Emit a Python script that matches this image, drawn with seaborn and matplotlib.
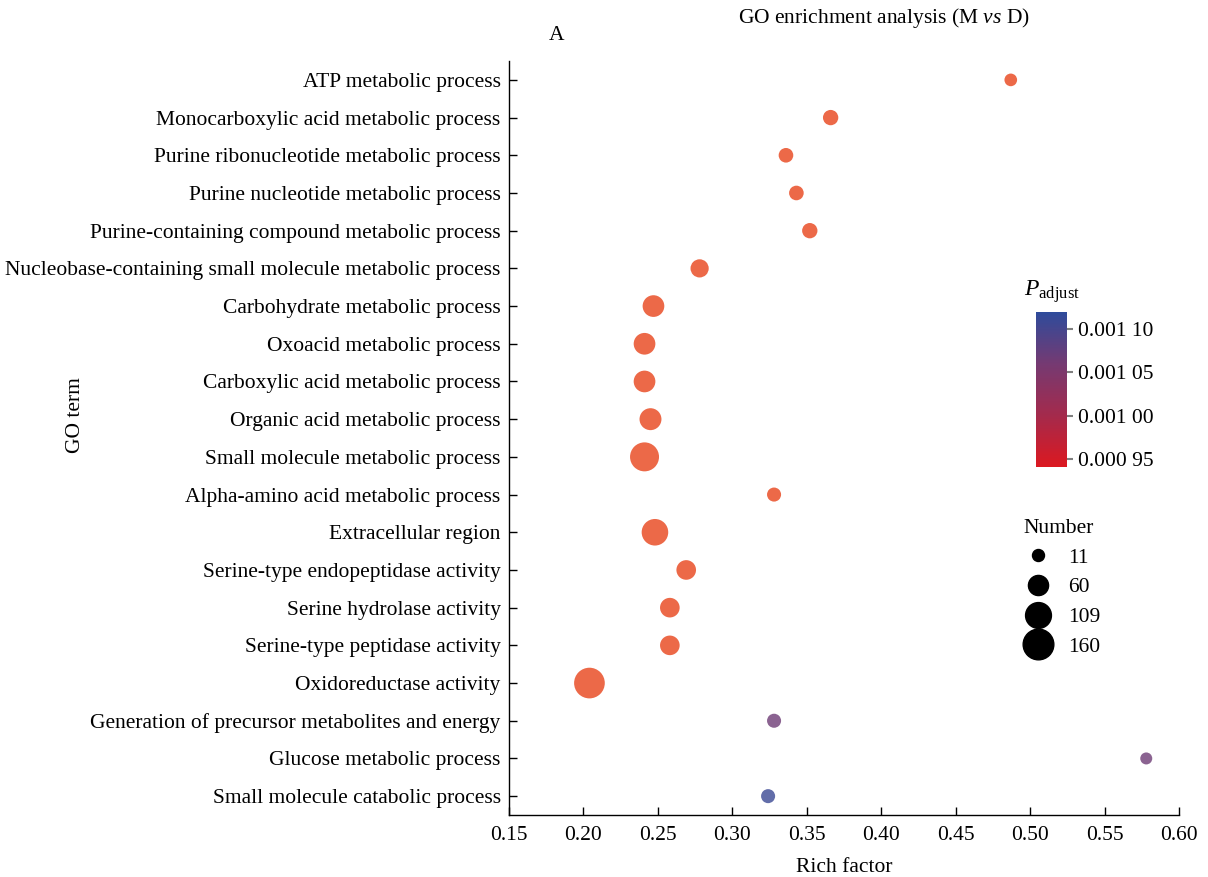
import numpy as np
import matplotlib
matplotlib.use("Agg")
import matplotlib.pyplot as plt
from matplotlib.colors import LinearSegmentedColormap, Normalize
from matplotlib.lines import Line2D
from matplotlib.ticker import FuncFormatter
import seaborn as sns
import pandas as pd

# GO terms, top to bottom as shown
terms = [
    "ATP metabolic process",
    "Monocarboxylic acid metabolic process",
    "Purine ribonucleotide metabolic process",
    "Purine nucleotide metabolic process",
    "Purine-containing compound metabolic process",
    "Nucleobase-containing small molecule metabolic process",
    "Carbohydrate metabolic process",
    "Oxoacid metabolic process",
    "Carboxylic acid metabolic process",
    "Organic acid metabolic process",
    "Small molecule metabolic process",
    "Alpha-amino acid metabolic process",
    "Extracellular region",
    "Serine-type endopeptidase activity",
    "Serine hydrolase activity",
    "Serine-type peptidase activity",
    "Oxidoreductase activity",
    "Generation of precursor metabolites and energy",
    "Glucose metabolic process",
    "Small molecule catabolic process",
]
rich_factor = [0.487, 0.366, 0.336, 0.343, 0.352, 0.278, 0.247, 0.241, 0.241, 0.245,
               0.241, 0.328, 0.248, 0.269, 0.258, 0.258, 0.204, 0.328, 0.578, 0.324]
counts = [14, 28, 24, 24, 28, 46, 72, 72, 72, 74,
          141, 21, 116, 56, 56, 56, 160, 21, 11, 21]
# terms far below the colour range are drawn in the "under" colour
p_adjust = [1e-6, 1e-6, 1e-6, 1e-6, 1e-6, 1e-6, 1e-6, 1e-6, 1e-6, 1e-6,
            1e-6, 1e-6, 1e-6, 1e-6, 1e-6, 1e-6, 1e-6, 0.001065, 0.001065, 0.001108]

size_legend = [11, 60, 109, 160]
cbar_ticks = [0.00095, 0.00100, 0.00105, 0.00110]
p_range = (0.000941, 0.001119)
count_range = (11, 160)
area_range = (74.6, 488.0)

FS = 15.5

df = pd.DataFrame({"term": terms, "rich": rich_factor, "count": counts, "padj": p_adjust})

sns.set_theme(style="white")
plt.rcParams["font.family"] = ["Liberation Serif", "DejaVu Serif"]
plt.rcParams["mathtext.fontset"] = "custom"
plt.rcParams["mathtext.rm"] = "Liberation Serif"
plt.rcParams["mathtext.it"] = "Liberation Serif:italic"
plt.rcParams["text.color"] = "black"

cmap = LinearSegmentedColormap.from_list(
    "padj", ["#dc1820", "#a42a4c", "#753a72", "#2e4b9b"])
cmap.set_under("#e8431a")
norm = Normalize(*p_range)

fig = plt.figure(figsize=(12.08, 8.77), dpi=100)
ax = fig.add_axes([0.4214, 0.0707, 0.5546, 0.8597])

sns.scatterplot(
    data=df, x="rich", y="term", hue="padj", size="count",
    palette=cmap, hue_norm=norm, sizes=area_range, size_norm=count_range,
    linewidth=0, alpha=0.8, legend=False, ax=ax,
)

ax.set_xlim(0.15, 0.60)
ax.set_xticks(np.arange(0.15, 0.601, 0.05))
ax.xaxis.set_major_formatter(FuncFormatter(lambda v, _: f"{v:.2f}"))
ax.set_ylim(len(terms) - 0.5, -0.5)
for side in ["top", "right"]:
    ax.spines[side].set_visible(False)
for side in ["left", "bottom"]:
    ax.spines[side].set_color("black")
    ax.spines[side].set_linewidth(1.0)
ax.tick_params(axis="both", direction="in", length=6, width=1.0, color="black",
               labelsize=FS, labelcolor="black", left=True, bottom=True)
ax.tick_params(axis="x", pad=8)
ax.tick_params(axis="y", pad=6)
ax.set_xlabel("Rich factor", fontsize=FS, labelpad=9, color="black")
ax.set_ylabel("")
fig.text(75 / 1208, 1 - 415 / 877, "GO term", rotation=90, fontsize=FS,
         ha="center", va="center")

fig.text(884 / 1208, 1 - 18 / 877, r"GO enrichment analysis (M $\it{vs}$ D)",
         fontsize=FS, ha="center", va="center")
fig.text(557 / 1208, 1 - 36 / 877, "A", fontsize=FS, ha="center", va="center")

# colour bar
cax = fig.add_axes([1036 / 1208, 1 - 467 / 877, 31 / 1208, 155 / 877])
sm = plt.cm.ScalarMappable(cmap=cmap, norm=norm)
cb = fig.colorbar(sm, cax=cax, ticks=cbar_ticks)
cb.outline.set_visible(False)
cb.ax.tick_params(length=4, width=1.5, color="#808080", labelsize=FS,
                  labelcolor="black", pad=4)
cb.ax.yaxis.set_major_formatter(
    FuncFormatter(lambda v, _: (lambda s: s[:5] + " " + s[5:])(f"{v:.5f}")))
fig.text(1052 / 1208, 1 - 292 / 877, r"$P_{\mathrm{adjust}}$", fontsize=17,
         ha="center", va="center")

# size legend
def count_to_area(v):
    lo, hi = count_range
    return area_range[0] + (v - lo) / (hi - lo) * (area_range[1] - area_range[0])

handles = [Line2D([], [], marker="o", linestyle="", color="black",
                  markersize=np.sqrt(count_to_area(v))) for v in size_legend]
leg = fig.legend(handles, [str(v) for v in size_legend], title="Number",
                 loc="upper left", bbox_to_anchor=(1006 / 1208, 1 - 508 / 877),
                 frameon=False, fontsize=FS, title_fontsize=FS,
                 labelspacing=0.45, handletextpad=0.4, borderpad=0)

fig.savefig("out.png", dpi=100)
